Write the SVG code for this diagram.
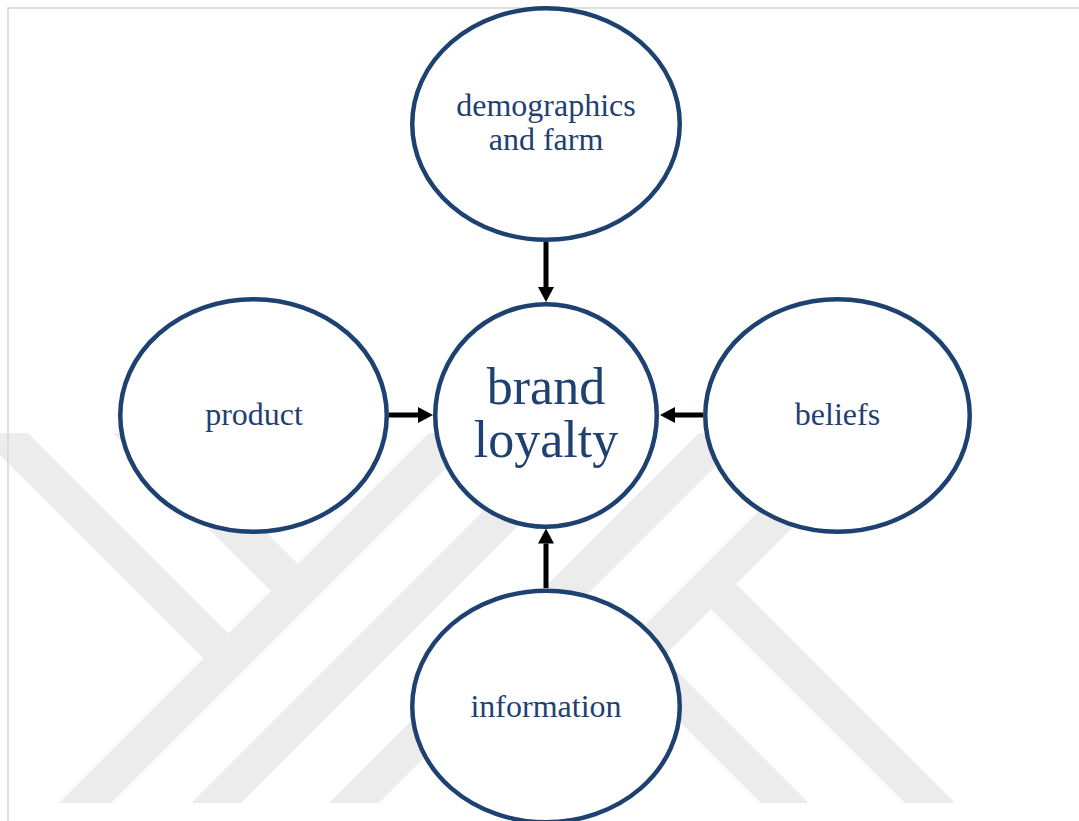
<svg xmlns="http://www.w3.org/2000/svg" width="1079" height="821" viewBox="0 0 1079 821">
  <defs>
    <style>
      .wm { fill: #ececec; stroke: none; }
      .frame { stroke: #d6d6d6; stroke-width: 1.5; fill: none; }
      .node { fill: #ffffff; stroke: #1d4170; stroke-width: 4.5; }
      .label { font-family: "Liberation Serif", "Times New Roman", serif; font-size: 32px; fill: #1f4172; text-anchor: middle; }
      .big { font-size: 52px; }
      .edge { stroke: #000000; stroke-width: 5; fill: none; marker-end: url(#head); }
    </style>
    <marker id="head" viewBox="0 0 15 16" refX="0" refY="8" markerWidth="15" markerHeight="16" markerUnits="userSpaceOnUse" orient="auto">
      <path d="M0,0 L15,8 L0,16 Z" fill="#000000"/>
    </marker>
  </defs>

  <rect width="1079" height="821" fill="#ffffff"/>

  <!-- background emblem: diagonal bands -->
  <g id="emblem">
    <polygon class="wm" points="429,433 481,433 111,803 59,803"/>
    <polygon class="wm" points="561,433 611,433 241,803 191,803"/>
    <polygon class="wm" points="699,433 749,433 379,803 329,803"/>
    <polygon class="wm" points="837,433 887,433 517,803 467,803"/>
    <polygon class="wm" points="-22,433 28,433 237.5,642.5 212.5,667.5"/>
    <polygon class="wm" points="113,433 167,433 307,573 280,600"/>
    <polygon class="wm" points="653,647 809,803 761,803 629,671"/>
    <polygon class="wm" points="726,574 955,803 905,803 701,599"/>
  </g>

  <!-- page frame -->
  <path class="frame" d="M8,830 L8,8 L1090,8"/>

  <g id="node-demographics">
    <ellipse class="node" cx="546" cy="124" rx="133.75" ry="115.75"/>
    <text class="label" x="546" y="116">demographics</text>
    <text class="label" x="546" y="150">and farm</text>
  </g>

  <g id="node-product">
    <ellipse class="node" cx="253.5" cy="415.5" rx="133.25" ry="116.25"/>
    <text class="label" x="254" y="425">product</text>
  </g>

  <g id="node-brand-loyalty">
    <ellipse class="node" cx="546" cy="415.5" rx="110.75" ry="111.25"/>
    <text class="label big" x="546" y="404">brand</text>
    <text class="label big" x="546" y="457">loyalty</text>
  </g>

  <g id="node-beliefs">
    <ellipse class="node" cx="837.5" cy="415.5" rx="132.25" ry="116.25"/>
    <text class="label" x="837.5" y="425">beliefs</text>
  </g>

  <g id="node-information">
    <ellipse class="node" cx="546" cy="706.5" rx="133.75" ry="115.75"/>
    <text class="label" x="546" y="717">information</text>
  </g>

  <g id="connectors">
    <line class="edge" x1="546" y1="242" x2="546" y2="287"/>
    <line class="edge" x1="389" y1="415" x2="418" y2="415"/>
    <line class="edge" x1="703" y1="415" x2="675" y2="415"/>
    <line class="edge" x1="546" y1="588" x2="546" y2="543.5"/>
  </g>
</svg>
